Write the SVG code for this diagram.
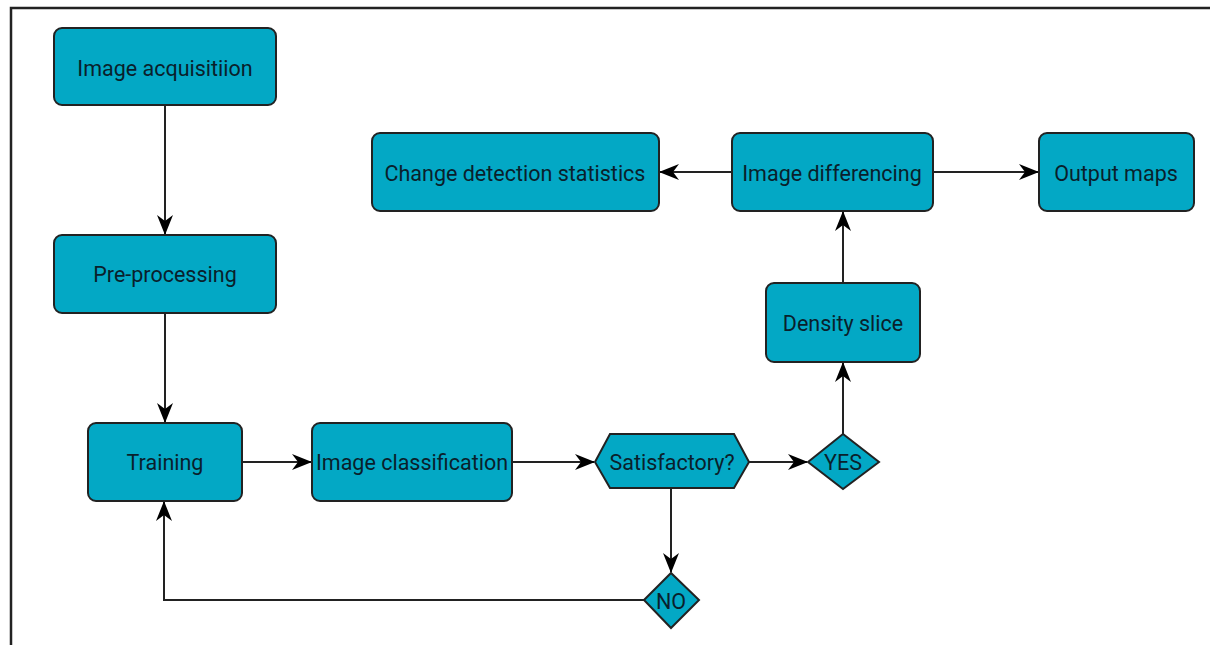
<svg xmlns="http://www.w3.org/2000/svg" width="1210" height="645" viewBox="0 0 1210 645">
<defs>
<style>
.box{fill:#03A8C5;stroke:#222;stroke-width:2}
.lbl{font-family:Roboto,"Liberation Sans",Arial,sans-serif;font-size:21.5px;fill:#0a1f2c;text-anchor:middle;dominant-baseline:central}
.edge{fill:none;stroke:#222;stroke-width:2}
</style>
<marker id="arr" markerUnits="userSpaceOnUse" markerWidth="20" markerHeight="16" viewBox="0 0 20 16" refX="19" refY="8" orient="auto">
<path d="M0,0 L20,8 L0,16 L6,8 z" fill="#000"/>
</marker>
</defs>
<rect width="1210" height="645" fill="#fff"/>
<path d="M11,645 V8 H1210" fill="none" stroke="#222" stroke-width="2.5"/>
<g id="edges">
<path class="edge" d="M165,106 V234" marker-end="url(#arr)"/>
<path class="edge" d="M165,313 V422" marker-end="url(#arr)"/>
<path class="edge" d="M242,462 H311" marker-end="url(#arr)"/>
<path class="edge" d="M512,462 H594" marker-end="url(#arr)"/>
<path class="edge" d="M749,462 H807" marker-end="url(#arr)"/>
<path class="edge" d="M671,488 V572" marker-end="url(#arr)"/>
<path class="edge" d="M644,600 H164 V502" marker-end="url(#arr)"/>
<path class="edge" d="M843,434 V363" marker-end="url(#arr)"/>
<path class="edge" d="M843,283 V212" marker-end="url(#arr)"/>
<path class="edge" d="M732,172 H660" marker-end="url(#arr)"/>
<path class="edge" d="M933,172 H1038" marker-end="url(#arr)"/>
</g>
<g id="image-acquisition"><rect class="box" x="54" y="28" width="222" height="77" rx="8"/><text class="lbl" x="165" y="68">Image acquisitiion</text></g>
<g id="pre-processing"><rect class="box" x="54" y="235" width="222" height="78" rx="8"/><text class="lbl" x="165" y="274">Pre-processing</text></g>
<g id="training"><rect class="box" x="88" y="423" width="154" height="78" rx="8"/><text class="lbl" x="165" y="462">Training</text></g>
<g id="image-classification"><rect class="box" x="312" y="423" width="200" height="78" rx="8"/><text class="lbl" x="412" y="462">Image classification</text></g>
<g id="satisfactory"><polygon class="box" points="595,462 610,434 734,434 749,462 734,488 610,488"/><text class="lbl" x="672" y="462">Satisfactory?</text></g>
<g id="yes"><polygon class="box" points="808,462 843,434 879,462 843,489"/><text class="lbl" x="843" y="462">YES</text></g>
<g id="no"><polygon class="box" points="644,600 671,573 699,600 671,628"/><text class="lbl" x="671" y="601">NO</text></g>
<g id="density-slice"><rect class="box" x="766" y="283" width="154" height="79" rx="8"/><text class="lbl" x="843" y="323">Density slice</text></g>
<g id="change-detection-statistics"><rect class="box" x="372" y="133" width="287" height="78" rx="8"/><text class="lbl" x="515" y="173">Change detection statistics</text></g>
<g id="image-differencing"><rect class="box" x="732" y="133" width="201" height="78" rx="8"/><text class="lbl" x="832" y="173">Image differencing</text></g>
<g id="output-maps"><rect class="box" x="1039" y="133" width="155" height="78" rx="8"/><text class="lbl" x="1116" y="173">Output maps</text></g>
</svg>
